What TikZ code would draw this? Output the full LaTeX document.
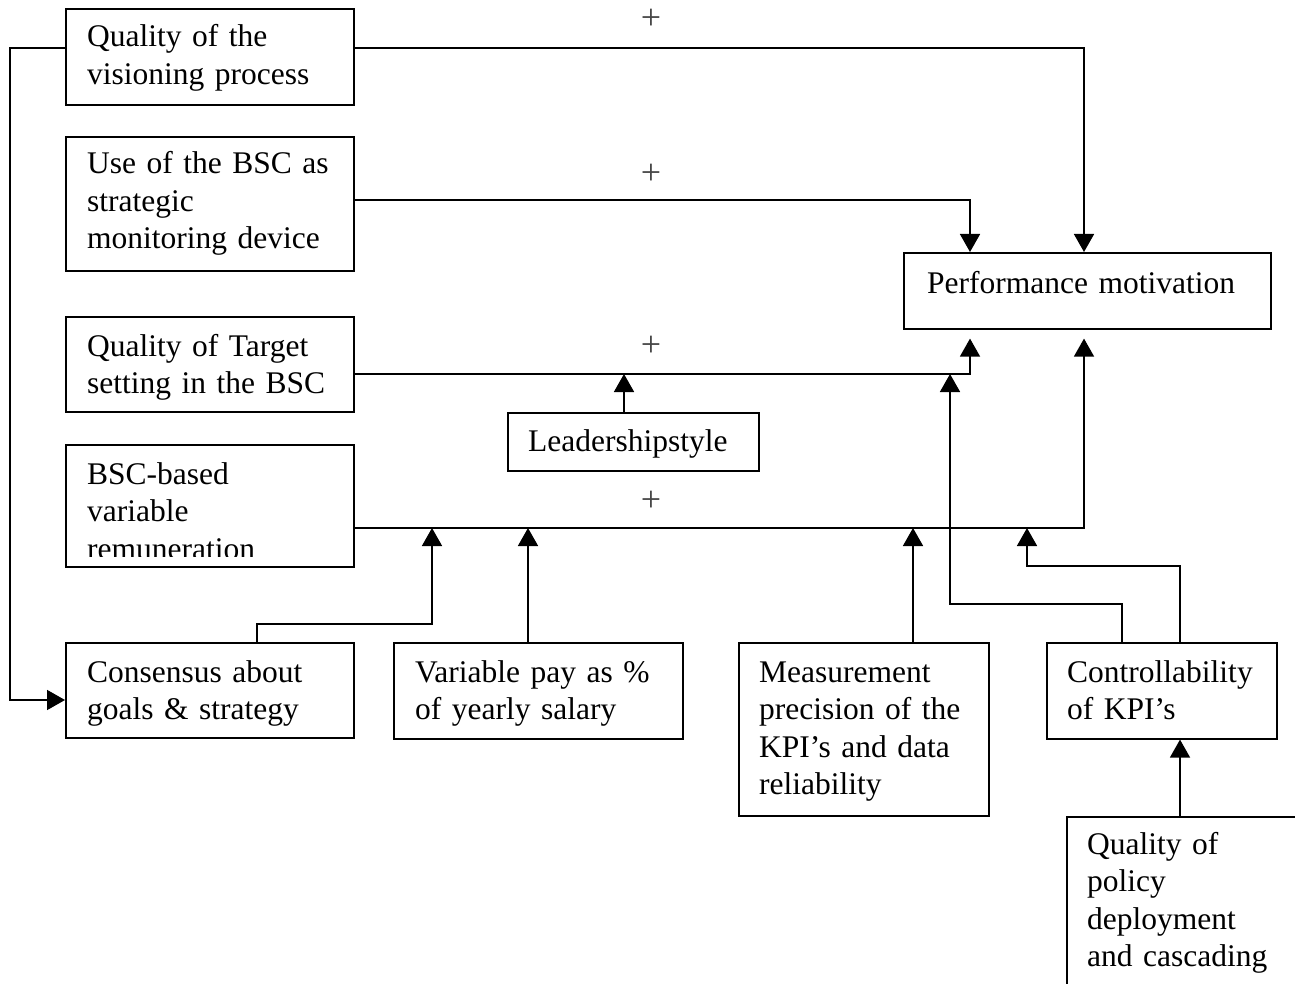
\documentclass[tikz,border=0pt]{standalone}
\usepackage{fontspec}
\setmainfont{Liberation Serif}
\usetikzlibrary{arrows.meta,calc}
\begin{document}
\begin{tikzpicture}[x=1pt,y=-1pt,
  box/.style={draw,line width=1.6pt,inner sep=0pt,anchor=north west},
  lbl/.style={inner sep=0pt,anchor=base west,text width=330pt,align=left,font=\fontsize{31.5}{37.5}\selectfont},
  plus/.style={inner sep=0pt,text=black!72,font=\fontsize{36}{36}\selectfont},
  arr/.style={line width=1.6pt,-{Triangle[length=18pt,width=20pt]}},
  ln/.style={line width=1.6pt}]
\clip (0,0) rectangle (1295,984);
\fill[white] (0,0) rectangle (1295,984);
% boxes
\node[box,minimum width=288pt,minimum height=96pt] (vis) at (65,8) {};
\node[box,minimum width=288pt,minimum height=134pt] (use) at (65,136) {};
\node[box,minimum width=288pt,minimum height=95pt] (tgt) at (65,316) {};
\node[box,minimum width=288pt,minimum height=122pt] (bsc) at (65,444) {};
\node[box,minimum width=288pt,minimum height=95pt] (cons) at (65,642) {};
\node[box,minimum width=289pt,minimum height=96pt] (vpay) at (393,642) {};
\node[box,minimum width=250pt,minimum height=173pt] (meas) at (738,642) {};
\node[box,minimum width=230pt,minimum height=96pt] (ctrl) at (1046,642) {};
\node[box,minimum width=260pt,minimum height=200pt] (pol) at (1066,816) {};
\node[box,minimum width=367pt,minimum height=76pt] (perf) at (903,252) {};
\node[box,minimum width=251pt,minimum height=58pt] (lead) at (507,412) {};
% texts
\node[lbl] (tvis) at (87,47) {Quality of the\\visioning process};
\node[lbl] (tuse) at (87,174) {Use of the BSC as\\strategic\\monitoring device};
\node[lbl] (ttgt) at (87,356) {Quality of Target\\setting in the BSC};
\begin{scope}
\clip (65,444) rectangle (353,556);
\node[lbl] (tbsc) at (87,484) {BSC-based\\variable\\remuneration};
\end{scope}
\node[lbl] (tcons) at (87,682) {Consensus about\\goals \& strategy};
\node[lbl] (tvpay) at (415,682) {Variable pay as \%\\of yearly salary};
\node[lbl] (tmeas) at (759,682) {Measurement\\precision of the\\KPI’s and data\\reliability};
\node[lbl] (tctrl) at (1067,682) {Controllability\\of KPI’s};
\node[lbl] (tpol) at (1087,854) {Quality of\\policy\\deployment\\and cascading};
\node[lbl] (tperf) at (927,294) {Performance motivation};
\node[lbl] (tlead) at (528,451) {Leadershipstyle};
% plus signs
\node[plus] (p1) at (651,19) {+};
\node[plus] (p2) at (651,174) {+};
\node[plus] (p3) at (651,346) {+};
\node[plus] (p4) at (651,501) {+};
% junction coordinates
\coordinate (tj1) at (624,374);
\coordinate (tj2) at (950,374);
\coordinate (bj1) at (432,528);
\coordinate (bj2) at (528,528);
\coordinate (bj3) at (913,528);
\coordinate (bj4) at (1027,528);
% connectors
\draw[arr] ($(vis.north east)+(0,40)$) -| ($(perf.north west)+(181,0)$);
\draw[arr] ($(use.north east)+(0,64)$) -| ($(perf.north west)+(67,0)$);
\draw[arr] ($(tgt.north east)+(0,58)$) -| ($(perf.south west)+(67,9)$);
\draw[arr] ($(bsc.north east)+(0,84)$) -| ($(perf.south west)+(181,9)$);
\draw[arr] ($(lead.north west)+(117,0)$) -- (tj1);
\draw[arr] ($(cons.north west)+(192,0)$) -- ++(0,-18) -| (bj1);
\draw[arr] ($(vpay.north west)+(135,0)$) -- (bj2);
\draw[arr] ($(meas.north west)+(175,0)$) -- (bj3);
\draw[arr] ($(ctrl.north west)+(76,0)$) -- ++(0,-38) -| (tj2);
\draw[arr] ($(ctrl.north west)+(134,0)$) -- ++(0,-76) -| (bj4);
\draw[arr] ($(pol.north west)+(114,0)$) -- ($(ctrl.south west)+(134,0)$);
\draw[arr] ($(vis.north west)+(0,40)$) -- ++(-55,0) |- ($(cons.north west)+(0,58)$);
\end{tikzpicture}
\end{document}
